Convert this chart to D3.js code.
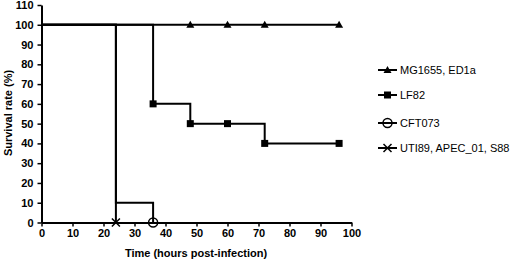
<!DOCTYPE html>
<html><head><meta charset="utf-8">
<script src="https://cdn.jsdelivr.net/npm/d3@7"></script>
<style>body{margin:0;background:#fff}svg{display:block}text{font-family:"Liberation Sans",Arial,sans-serif}</style>
</head><body>
<svg id="c" width="510" height="262"></svg>
<script>
const xTicks = [0,10,20,30,40,50,60,70,80,90,100];
const yTicks = [0,10,20,30,40,50,60,70,80,90,100,110];
const seriesNames = ["MG1655, ED1a","LF82","CFT073","UTI89, APEC_01, S88"];
const mgTimes = [0,48,60,72,96];
const mgValues = [100,100,100,100,100];
const mgMarkers = [48,60,72,96];
const lfTimes = [0,36,48,60,72,96];
const lfValues = [100,60,50,50,40,40];
const lfMarkers = [36,48,60,72,96];
const cftTimes = [0,24,36];
const cftValues = [100,10,0];
const cftMarkers = [36];
const utiTimes = [0,24];
const utiValues = [100,0];
const utiMarkers = [24];

const svg = d3.select("#c");
const x = d3.scaleLinear().domain([0,100]).range([41.5,351.5]);
const y = d3.scaleLinear().domain([0,110]).range([222.5,5]);

const gx = svg.append("g").attr("transform","translate(0,222.5)")
  .call(d3.axisBottom(x).tickValues(xTicks).tickSize(4).tickSizeOuter(0).tickPadding(3));
const gy = svg.append("g").attr("transform","translate(41.5,0)")
  .call(d3.axisLeft(y).tickValues(yTicks).tickSize(4).tickSizeOuter(0).tickPadding(4));
[gx,gy].forEach(g=>{
  g.select(".domain").attr("stroke","#000").attr("stroke-width",2);
  g.selectAll(".tick line").attr("stroke","#000").attr("stroke-width",1.5);
  g.selectAll(".tick text").attr("fill","#000").attr("font-size",11).attr("font-weight","bold")
   .attr("font-family","'Liberation Sans',Arial,sans-serif");
});

const line = d3.line().x(d=>x(d[0])).y(d=>y(d[1])).curve(d3.curveStepAfter);
const series = [
  {t:mgTimes,v:mgValues,m:mgMarkers,sym:"tri"},
  {t:lfTimes,v:lfValues,m:lfMarkers,sym:"sq"},
  {t:cftTimes,v:cftValues,m:cftMarkers,sym:"circ"},
  {t:utiTimes,v:utiValues,m:utiMarkers,sym:"x"}
];
function marker(g,sym,cx,cy){
  if(sym==="tri") g.append("path").attr("d",`M${cx},${cy-4}L${cx+4},${cy+3}L${cx-4},${cy+3}Z`).attr("fill","#000");
  else if(sym==="sq") g.append("rect").attr("x",cx-3.5).attr("y",cy-3.5).attr("width",7).attr("height",7).attr("fill","#000");
  else if(sym==="circ") g.append("circle").attr("cx",cx).attr("cy",cy).attr("r",4.5).attr("fill","none").attr("stroke","#000").attr("stroke-width",1.5);
  else g.append("path").attr("d",`M${cx-4},${cy-4}L${cx+4},${cy+4}M${cx+4},${cy-4}L${cx-4},${cy+4}`).attr("stroke","#000").attr("stroke-width",1.5);
}
series.forEach(s=>{
  const pts = s.t.map((t,i)=>[t,s.v[i]]);
  svg.append("path").attr("d",line(pts)).attr("fill","none").attr("stroke","#000").attr("stroke-width",2);
});
series.forEach(s=>{
  s.m.forEach(t=>{
    const i = s.t.indexOf(t);
    marker(svg,s.sym,x(t),y(s.v[i]));
  });
});

// legend
const ly = [70,95,123,148];
seriesNames.forEach((n,i)=>{
  svg.append("line").attr("x1",378).attr("x2",397).attr("y1",ly[i]).attr("y2",ly[i]).attr("stroke","#000").attr("stroke-width",2);
  marker(svg,series[i].sym,387.5,ly[i]);
  svg.append("text").attr("x",400).attr("y",ly[i]+4).attr("font-size",11).attr("fill","#000").text(n);
});

svg.append("text").attr("x",196).attr("y",257).attr("text-anchor","middle").attr("font-size",11).attr("font-weight","bold").text("Time (hours post-infection)");
svg.append("text").attr("transform","translate(12,113) rotate(-90)").attr("text-anchor","middle").attr("font-size",11).attr("font-weight","bold").text("Survival rate (%)");
</script>
</body></html>
